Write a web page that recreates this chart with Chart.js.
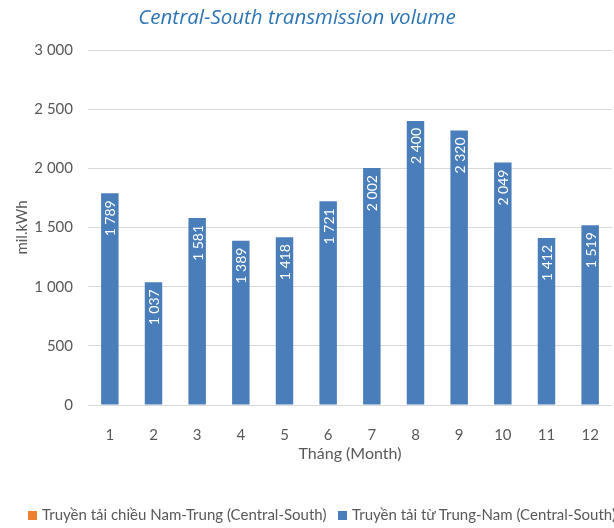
<!DOCTYPE html>
<html>
<head>
<meta charset="utf-8">
<script src="https://cdn.jsdelivr.net/npm/chart.js@4/dist/chart.umd.min.js"></script>
<style>
  html, body { margin: 0; padding: 0; background: #fff; overflow: hidden; }
  #wrap { position: relative; width: 614px; height: 528px; overflow: hidden; }
  #chart { position: absolute; left: 0; top: 0; }
  #title {
    position: absolute; left: 0; width: 594px; top: 2px; text-align: center;
    font: italic 20.5px "Open Sans", sans-serif; color: #2E75B6; white-space: nowrap;
  }
  .leg {
    position: absolute; top: 505px; white-space: nowrap;
    font: 15px Lato, sans-serif; color: #595959; line-height: 18px;
  }
  .leg i { display: inline-block; width: 9px; height: 9px; margin-right: 5px; vertical-align: 0px; }
</style>
</head>
<body>
<div id="wrap">
  <canvas id="chart" width="614" height="528"></canvas>
  <div id="title"></div>
  <div id="leg0" class="leg" style="left:28px"></div>
  <div id="leg1" class="leg" style="left:338px"></div>
</div>
<script>
// Monthly Central-South transmission volume (mil.kWh)
const titleText = 'Central-South transmission volume';
const months = ['1', '2', '3', '4', '5', '6', '7', '8', '9', '10', '11', '12'];
const seriesNames = [
  'Truyền tải chiều Nam-Trung (Central-South)',
  'Truyền tải từ Trung-Nam (Central-South)'
];
const seriesColors = ['#ED7D31', '#4A7EBB'];
const southToCentral = [null, null, null, null, null, null, null, null, null, null, null, null];
const centralToSouth = [1789, 1037, 1581, 1389, 1418, 1721, 2002, 2400, 2320, 2049, 1412, 1519];
const yTicks = [0, 500, 1000, 1500, 2000, 2500, 3000];
const yTitle = 'mil.kWh';
const xTitle = 'Tháng (Month)';

const fmt = v => String(v).replace(/\B(?=(\d{3})+(?!\d))/g, ' ');

document.getElementById('title').textContent = titleText;
seriesNames.forEach((name, i) => {
  const el = document.getElementById('leg' + i);
  const box = document.createElement('i');
  box.style.background = seriesColors[i];
  el.appendChild(box);
  el.appendChild(document.createTextNode(name));
});

// white rotated value labels just inside the top of each bar
const barValueLabels = {
  id: 'barValueLabels',
  afterDatasetsDraw(chart) {
    const ctx = chart.ctx;
    const meta = chart.getDatasetMeta(1);
    const data = chart.data.datasets[1].data;
    ctx.save();
    ctx.fillStyle = '#ffffff';
    ctx.font = '14px Lato, sans-serif';
    ctx.textAlign = 'right';
    ctx.textBaseline = 'middle';
    meta.data.forEach((bar, i) => {
      if (data[i] == null) return;
      ctx.save();
      ctx.translate(bar.x, bar.y + 7);
      ctx.rotate(-Math.PI / 2);
      ctx.fillText(fmt(data[i]), 0, 1);
      ctx.restore();
    });
    ctx.restore();
  }
};

new Chart(document.getElementById('chart'), {
  type: 'bar',
  data: {
    labels: months,
    datasets: [
      { label: seriesNames[0], data: southToCentral, backgroundColor: seriesColors[0] },
      { label: seriesNames[1], data: centralToSouth, backgroundColor: seriesColors[1] }
    ]
  },
  options: {
    responsive: false,
    animation: false,
    events: [],
    layout: { padding: { top: 50, left: 0, right: 2, bottom: 58 } },
    datasets: {
      bar: { grouped: false, barPercentage: 0.4, categoryPercentage: 1 }
    },
    plugins: {
      legend: { display: false },
      title: { display: false },
      tooltip: { enabled: false }
    },
    scales: {
      x: {
        grid: { display: false },
        border: { display: false },
        ticks: { color: '#595959', font: { family: 'Lato', size: 15 }, padding: 13, maxRotation: 0 },
        title: {
          display: true, text: xTitle, color: '#595959',
          font: { family: 'Lato', size: 16 }, padding: { top: 0, bottom: 7 }
        },
        afterFit: s => { s.height = 65; }
      },
      y: {
        min: 0, max: 3000,
        afterBuildTicks: s => { s.ticks = yTicks.map(v => ({ value: v })); },
        grid: { color: '#d9d9d9', drawTicks: false, lineWidth: 1 },
        border: { display: false },
        ticks: { color: '#595959', font: { family: 'Lato', size: 15 }, padding: 15, callback: v => fmt(v) },
        title: {
          display: true, text: yTitle, color: '#595959',
          font: { family: 'Lato', size: 15 }, padding: { top: 13, bottom: 0 }
        },
        afterFit: s => { s.width = 88; }
      }
    }
  },
  plugins: [barValueLabels]
});
</script>
</body>
</html>
